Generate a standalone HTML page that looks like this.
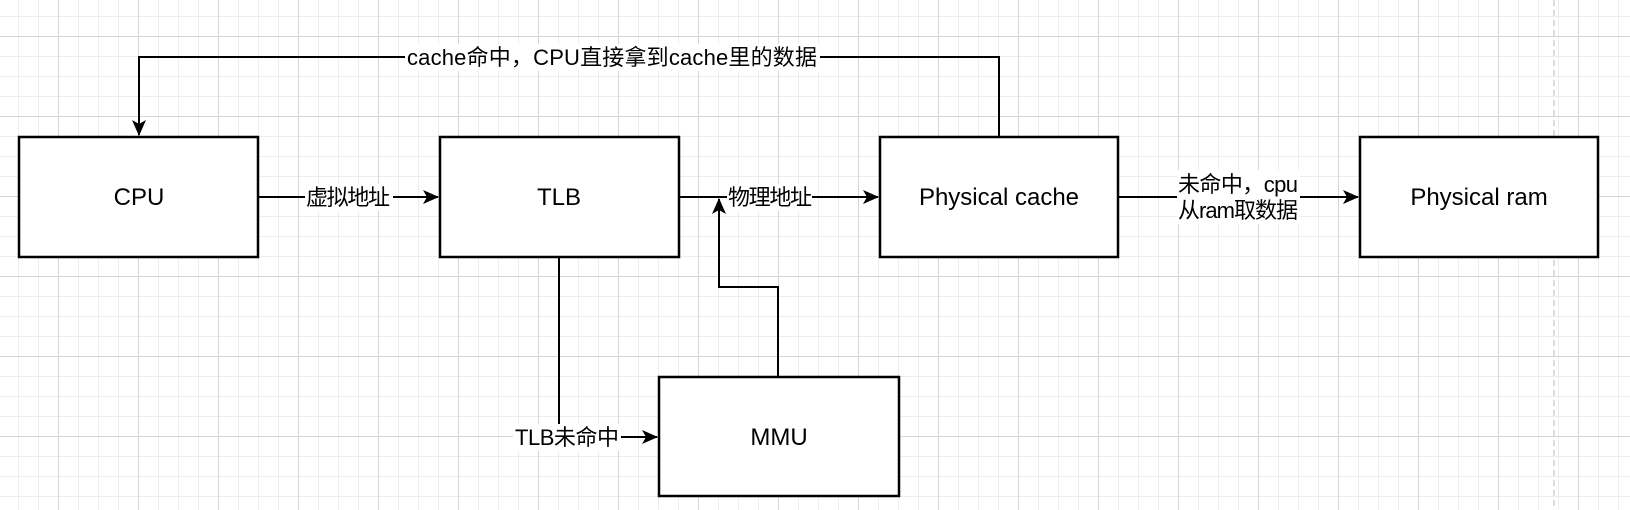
<!DOCTYPE html>
<html><head><meta charset="utf-8"><style>
html,body{margin:0;padding:0;}
body{width:1630px;height:510px;overflow:hidden;background-color:#fff;
background-image:
linear-gradient(to right,#d6d6d6 1px,transparent 1px),
linear-gradient(to bottom,#d6d6d6 1px,transparent 1px),
linear-gradient(to right,#eeeeee 1px,transparent 1px),
linear-gradient(to bottom,#eeeeee 1px,transparent 1px);
background-size:80px 80px,80px 80px,20px 20px,20px 20px;
background-position:58px 0,0 36px,18px 0,0 16px;}
svg{position:absolute;left:0;top:0;}
text{font-family:"Liberation Sans","Noto Sans CJK SC",sans-serif;font-size:22px;fill:#000;}
text.b{font-size:24px;}
</style></head><body>
<svg width="1630" height="510" xmlns="http://www.w3.org/2000/svg">
<defs><marker id="a" markerWidth="16" markerHeight="16" refX="15" refY="8" orient="auto" markerUnits="userSpaceOnUse"><path d="M0,1 L16,8 L0,15 L4,8 Z" fill="#000"/></marker></defs>
<line x1="1554" y1="0" x2="1554" y2="510" stroke="#bbb" stroke-dasharray="6,4"/>
<g fill="#fff" stroke="#000" stroke-width="2.5">
<rect x="19" y="137" width="239" height="120"/>
<rect x="440" y="137" width="239" height="120"/>
<rect x="880" y="137" width="238" height="120"/>
<rect x="1360" y="137" width="238" height="120"/>
<rect x="659" y="377" width="240" height="119"/>
</g>
<g fill="none" stroke="#000" stroke-width="2">
<polyline points="999,137 999,57 139,57 139,135" marker-end="url(#a)"/>
<line x1="258" y1="197" x2="438" y2="197" marker-end="url(#a)"/>
<line x1="679" y1="197" x2="878" y2="197" marker-end="url(#a)"/>
<line x1="1118" y1="197" x2="1358" y2="197" marker-end="url(#a)"/>
<polyline points="559,257 559,437 657,437" marker-end="url(#a)"/>
<polyline points="778,377 778,287 719,287 719,199" marker-end="url(#a)"/>
</g>
<g fill="#fff">
<rect x="405" y="44" width="415" height="27"/>
<rect x="305" y="184" width="88" height="27"/>
<rect x="727" y="184" width="85" height="27"/>
<rect x="1177" y="170" width="123" height="54"/>
<rect x="513" y="424" width="108" height="27"/>
</g>
<g text-anchor="middle">
<text x="612" y="65" textLength="410">cache命中，CPU直接拿到cache里的数据</text>
<text x="348" y="205" textLength="84">虚拟地址</text>
<text x="770" y="205" textLength="84">物理地址</text>
<text x="1238" y="192" textLength="120">未命中，cpu</text>
<text x="1238" y="218" textLength="120">从ram取数据</text>
<text x="567" y="445" textLength="104">TLB未命中</text>
<text class="b" x="139" y="205">CPU</text>
<text class="b" x="559" y="205">TLB</text>
<text class="b" x="999" y="205">Physical cache</text>
<text class="b" x="1479" y="205">Physical ram</text>
<text class="b" x="779" y="445">MMU</text>
</g>
</svg>
</body></html>
